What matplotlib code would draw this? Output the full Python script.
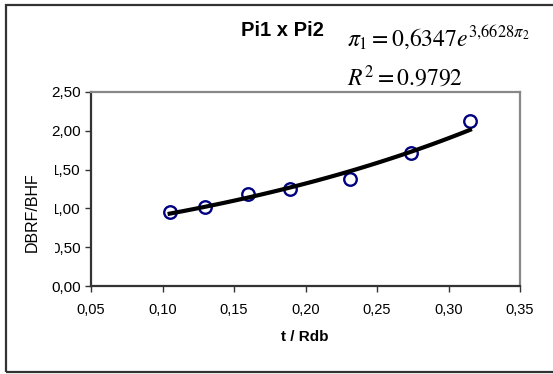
import numpy as np
import matplotlib
matplotlib.use("Agg")
import matplotlib.pyplot as plt
from matplotlib.patches import Rectangle

# data
pi2 = [0.105, 0.130, 0.160, 0.189, 0.231, 0.274, 0.315]
pi1 = [0.96, 1.02, 1.19, 1.25, 1.38, 1.72, 2.13]
fit_a = 0.6347
fit_b = 3.6628
xticks = [0.05, 0.10, 0.15, 0.20, 0.25, 0.30, 0.35]
yticks = [0.0, 0.5, 1.0, 1.5, 2.0, 2.5]

plt.rcParams['font.family'] = ['Liberation Sans', 'DejaVu Sans']
plt.rcParams['mathtext.fontset'] = 'stix'

W, H = 553, 374
fig = plt.figure(figsize=(W / 100, H / 100), dpi=100)

def px(x, y):
    return x / W, 1 - y / H

# outer frame
fig.patches.append(Rectangle(px(6, 372), (W + 10) / W, 367 / H, transform=fig.transFigure,
                             fill=False, edgecolor='#333333', lw=1.6))

l, b = px(91, 286)
r, t = px(520, 92)
ax = fig.add_axes([l, b, r - l, t - b])

xx = np.linspace(min(pi2), max(pi2), 100)
ax.plot(pi2, pi1, 'o', mfc='none', mec='#000080', ms=9, mew=1.7, zorder=2)
ax.plot(xx, fit_a * np.exp(fit_b * xx), color='black', lw=3, zorder=3)

ax.set_xlim(0.05, 0.35)
ax.set_ylim(0, 2.5)
ax.set_xticks(xticks)
ax.set_yticks(yticks)
ax.set_xticklabels([f"{v:.2f}".replace('.', ',') for v in xticks])
ax.set_yticklabels([f"{v:.2f}".replace('.', ',') for v in yticks])
ax.tick_params(axis='x', length=4, width=1, pad=8, labelsize=10.5, color='#333333')
ax.tick_params(axis='y', length=4, width=1, pad=3.5, labelsize=11, color='#333333')
for s in ['left', 'bottom']:
    ax.spines[s].set_color('#333333')
    ax.spines[s].set_linewidth(1.6)
for s in ['top', 'right']:
    ax.spines[s].set_color('#888888')
    ax.spines[s].set_linewidth(1.6)

fig.text(*px(282, 31), 'Pi1 x Pi2', fontsize=14.5, fontweight='bold', ha='center', va='center')
fig.text(*px(347, 47), r'$\pi_1 = 0{,}6347e^{3{,}6628\pi_2}$', fontsize=17, ha='left', va='baseline')
fig.text(*px(347, 86), r'$R^2 = 0.9792$', fontsize=17, ha='left', va='baseline')
fig.text(*px(305, 337), 't / Rdb', fontsize=11, fontweight='bold', ha='center', va='center')

# the y label box hides the left part of some tick labels, as in the original
fig.patches.append(Rectangle(px(18, 258), 37 / W, 100 / H, transform=fig.transFigure,
                             facecolor='white', edgecolor='none', zorder=5))
fig.text(*px(32, 212), 'DBRF/BHF', fontsize=11.5, rotation=90, ha='center', va='center', zorder=6)

fig.savefig('out.png', dpi=100)
